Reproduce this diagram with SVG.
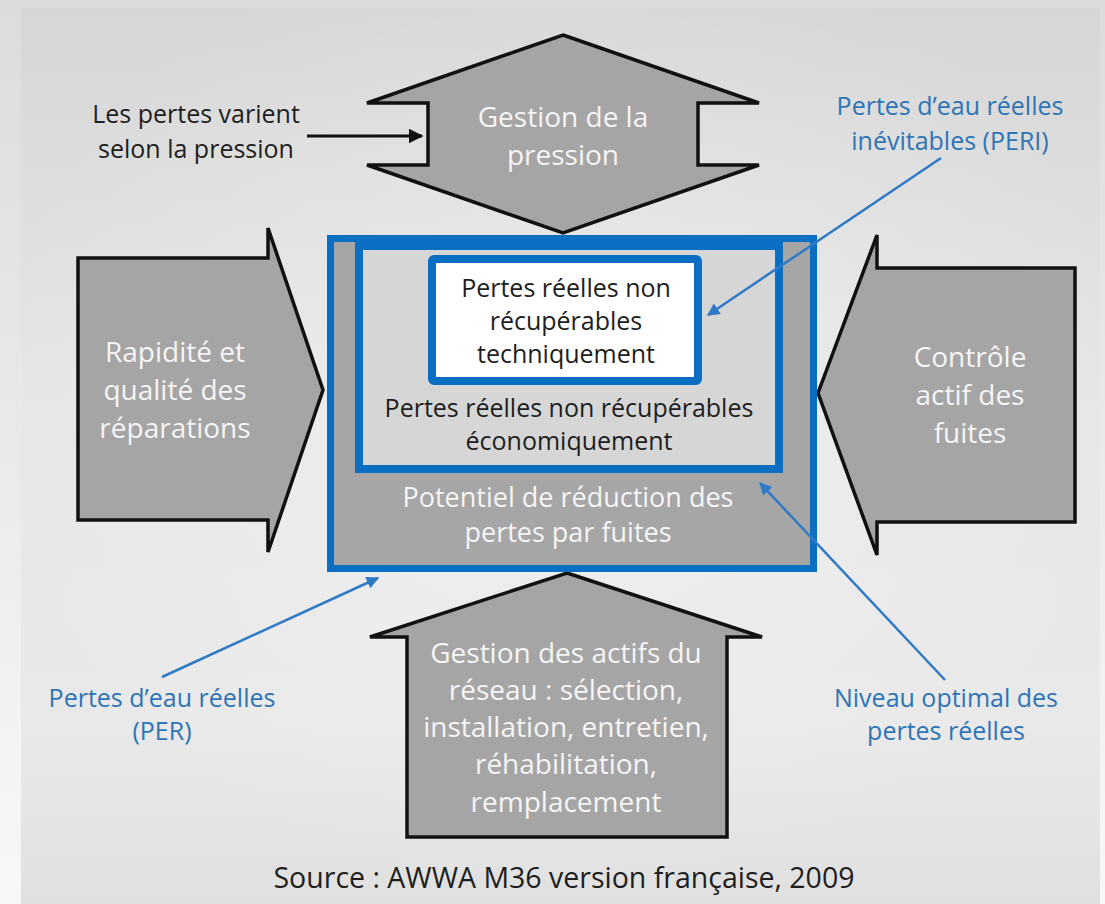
<svg xmlns="http://www.w3.org/2000/svg" width="1105" height="904" viewBox="0 0 1105 904">
  <defs>
    <linearGradient id="pageBg" x1="0" y1="0" x2="0" y2="1">
      <stop offset="0" stop-color="#dcdcdc"/>
      <stop offset="1" stop-color="#f8f8f8"/>
    </linearGradient>
    <linearGradient id="slideBg" x1="0" y1="0" x2="0" y2="1">
      <stop offset="0" stop-color="#d6d6d6"/>
      <stop offset="0.45" stop-color="#e6e6e6"/>
      <stop offset="0.8" stop-color="#e9e9e9"/>
      <stop offset="1" stop-color="#e0e0e0"/>
    </linearGradient>
    <radialGradient id="glow" cx="0.5" cy="0.45" r="0.55">
      <stop offset="0" stop-color="#ffffff" stop-opacity="0.35"/>
      <stop offset="1" stop-color="#ffffff" stop-opacity="0"/>
    </radialGradient>
    <marker id="headBlue" viewBox="0 0 10 10" refX="9" refY="5" markerWidth="6" markerHeight="5" markerUnits="strokeWidth" orient="auto">
      <path d="M0,0 L10,5 L0,10 z" fill="#2f7ac6"/>
    </marker>
    <marker id="headBlack" viewBox="0 0 10 10" refX="9" refY="5" markerWidth="5" markerHeight="5" markerUnits="strokeWidth" orient="auto">
      <path d="M0,0 L10,5 L0,10 z" fill="#111"/>
    </marker>
  </defs>
  <style>
    .arrow { fill: #a5a5a5; stroke: #111; stroke-width: 3.5; stroke-linejoin: miter; }
    .w { fill: #f5f5f5; font-family: "Open Sans", "Liberation Sans", sans-serif; font-size: 28px; text-anchor: middle; }
    .w2 { fill: #f5f5f5; font-family: "Open Sans", "Liberation Sans", sans-serif; font-size: 27px; text-anchor: middle; }
    .d { fill: #1e1e1e; font-family: "Open Sans", "Liberation Sans", sans-serif; font-size: 25px; text-anchor: middle; }
    .b { fill: #2e75b6; font-family: "Open Sans", "Liberation Sans", sans-serif; font-size: 25px; text-anchor: middle; }
    .src { fill: #1e1e1e; font-family: "Open Sans", "Liberation Sans", sans-serif; font-size: 28.5px; text-anchor: middle; }
    .lead { fill: none; stroke: #2f7ac6; stroke-width: 2.5; marker-end: url(#headBlue); }
    .boxline { stroke: #0a6fc2; }
  </style>

  <!-- background -->
  <rect x="0" y="0" width="1105" height="904" fill="url(#pageBg)"/>
  <rect x="21" y="8" width="1079" height="896" fill="url(#slideBg)"/>
  <rect x="21" y="8" width="1079" height="896" fill="url(#glow)"/>

  <!-- pressure management: double-headed arrow -->
  <g id="gestion-pression">
    <polygon class="arrow" points="563,35 759,103 698,103 698,165 759,165 563,233 367,165 428,165 428,103 367,103"/>
    <text class="w" x="563" y="127">Gestion de la</text>
    <text class="w" x="563" y="165">pression</text>
  </g>

  <!-- repairs: arrow pointing right -->
  <g id="rapidite-reparations">
    <polygon class="arrow" points="78,258 268,258 268,228 323,390 268,552 268,520 78,520"/>
    <text class="w" x="175" y="362">Rapidité et</text>
    <text class="w" x="175" y="400">qualité des</text>
    <text class="w" x="175" y="438">réparations</text>
  </g>

  <!-- active leak control: arrow pointing left -->
  <g id="controle-fuites">
    <polygon class="arrow" points="1075,268 877,268 877,235 818,393 877,555 877,522 1075,522"/>
    <text class="w" x="970" y="367">Contrôle</text>
    <text class="w" x="970" y="405">actif des</text>
    <text class="w" x="970" y="443">fuites</text>
  </g>

  <!-- asset management: arrow pointing up -->
  <g id="gestion-actifs">
    <polygon class="arrow" points="567,573 762,637 727,637 727,837 407,837 407,637 370,637"/>
    <text class="w" x="566" y="663">Gestion des actifs du</text>
    <text class="w" x="566" y="700">réseau : sélection,</text>
    <text class="w" x="566" y="737">installation, entretien,</text>
    <text class="w" x="566" y="774">réhabilitation,</text>
    <text class="w" x="566" y="812">remplacement</text>
  </g>

  <!-- nested loss boxes -->
  <g id="pertes-reelles">
    <rect class="boxline" x="330.5" y="238.5" width="483" height="330" fill="#a6a6a6" stroke-width="7"/>
    <text class="w2" x="568" y="507">Potentiel de réduction des</text>
    <text class="w2" x="568" y="542">pertes par fuites</text>
  </g>
  <g id="pertes-economiques">
    <rect class="boxline" x="359" y="246" width="420" height="223" fill="#d6d6d6" stroke-width="8"/>
    <text class="d" x="569" y="417">Pertes réelles non récupérables</text>
    <text class="d" x="569" y="450">économiquement</text>
  </g>
  <g id="pertes-techniques">
    <rect class="boxline" x="432" y="259" width="266" height="122" rx="2" fill="#ffffff" stroke-width="8"/>
    <text class="d" x="566" y="297">Pertes réelles non</text>
    <text class="d" x="566" y="330">récupérables</text>
    <text class="d" x="566" y="363">techniquement</text>
  </g>

  <!-- annotation labels -->
  <g id="label-pression">
    <text class="d" x="196" y="123">Les pertes varient</text>
    <text class="d" x="196" y="158">selon la pression</text>
  </g>
  <g id="label-peri">
    <text class="b" x="950" y="115">Pertes d’eau réelles</text>
    <text class="b" x="950" y="150">inévitables (PERI)</text>
  </g>
  <g id="label-per">
    <text class="b" x="162" y="707">Pertes d’eau réelles</text>
    <text class="b" x="162" y="740">(PER)</text>
  </g>
  <g id="label-optimal">
    <text class="b" x="946" y="707">Niveau optimal des</text>
    <text class="b" x="946" y="740">pertes réelles</text>
  </g>

  <!-- connectors -->
  <g id="connectors">
    <line x1="307" y1="136" x2="422" y2="136" stroke="#111" stroke-width="3" marker-end="url(#headBlack)"/>
    <line class="lead" x1="941" y1="158" x2="708" y2="315"/>
    <line class="lead" x1="162" y1="677" x2="378" y2="578"/>
    <line class="lead" x1="945" y1="680" x2="760" y2="483"/>
  </g>

  <text id="source" class="src" x="564" y="888">Source : AWWA M36 version française, 2009</text>
</svg>
